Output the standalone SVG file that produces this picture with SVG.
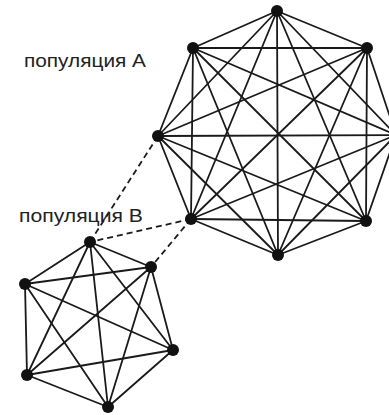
<svg xmlns="http://www.w3.org/2000/svg" width="389" height="415" viewBox="0 0 389 415">
<style>
.e{stroke:#1a1a1a;stroke-width:1.8;fill:none;stroke-linecap:round}
.d{stroke:#1a1a1a;stroke-width:1.8;fill:none;stroke-dasharray:6 4}
.n{fill:#111}
.t{font-family:"Liberation Sans",Arial,sans-serif;font-size:18.5px;fill:#222}
</style>
<rect width="389" height="415" fill="#fff"/>
<g id="connectors">
<g id="edges-A">
<line class="e" x1="277" y1="11" x2="367" y2="48"/>
<line class="e" x1="277" y1="11" x2="396" y2="135"/>
<line class="e" x1="277" y1="11" x2="366" y2="221"/>
<line class="e" x1="277" y1="11" x2="278" y2="255"/>
<line class="e" x1="277" y1="11" x2="191" y2="219"/>
<line class="e" x1="277" y1="11" x2="158" y2="136"/>
<line class="e" x1="277" y1="11" x2="193" y2="48"/>
<line class="e" x1="367" y1="48" x2="396" y2="135"/>
<line class="e" x1="367" y1="48" x2="366" y2="221"/>
<line class="e" x1="367" y1="48" x2="278" y2="255"/>
<line class="e" x1="367" y1="48" x2="191" y2="219"/>
<line class="e" x1="367" y1="48" x2="158" y2="136"/>
<line class="e" x1="367" y1="48" x2="193" y2="48"/>
<line class="e" x1="396" y1="135" x2="366" y2="221"/>
<line class="e" x1="396" y1="135" x2="278" y2="255"/>
<line class="e" x1="396" y1="135" x2="191" y2="219"/>
<line class="e" x1="396" y1="135" x2="158" y2="136"/>
<line class="e" x1="396" y1="135" x2="193" y2="48"/>
<line class="e" x1="366" y1="221" x2="278" y2="255"/>
<line class="e" x1="366" y1="221" x2="191" y2="219"/>
<line class="e" x1="366" y1="221" x2="158" y2="136"/>
<line class="e" x1="366" y1="221" x2="193" y2="48"/>
<line class="e" x1="278" y1="255" x2="191" y2="219"/>
<line class="e" x1="278" y1="255" x2="158" y2="136"/>
<line class="e" x1="278" y1="255" x2="193" y2="48"/>
<line class="e" x1="191" y1="219" x2="158" y2="136"/>
<line class="e" x1="191" y1="219" x2="193" y2="48"/>
<line class="e" x1="158" y1="136" x2="193" y2="48"/>
</g>
<g id="edges-B">
<line class="e" x1="90" y1="242" x2="151" y2="267"/>
<line class="e" x1="90" y1="242" x2="173" y2="350"/>
<line class="e" x1="90" y1="242" x2="108" y2="407"/>
<line class="e" x1="90" y1="242" x2="27" y2="375"/>
<line class="e" x1="90" y1="242" x2="25" y2="284"/>
<line class="e" x1="151" y1="267" x2="173" y2="350"/>
<line class="e" x1="151" y1="267" x2="108" y2="407"/>
<line class="e" x1="151" y1="267" x2="27" y2="375"/>
<line class="e" x1="151" y1="267" x2="25" y2="284"/>
<line class="e" x1="173" y1="350" x2="108" y2="407"/>
<line class="e" x1="173" y1="350" x2="27" y2="375"/>
<line class="e" x1="173" y1="350" x2="25" y2="284"/>
<line class="e" x1="108" y1="407" x2="27" y2="375"/>
<line class="e" x1="108" y1="407" x2="25" y2="284"/>
<line class="e" x1="27" y1="375" x2="25" y2="284"/>
</g>
<g id="edges-AB">
<line class="d" x1="158" y1="136" x2="90" y2="242"/>
<line class="d" x1="191" y1="219" x2="90" y2="242"/>
<line class="d" x1="191" y1="219" x2="151" y2="267"/>
</g>
</g>
<g id="a1"><circle class="n" cx="277" cy="11" r="6"/></g>
<g id="a2"><circle class="n" cx="367" cy="48" r="6"/></g>
<g id="a3"><circle class="n" cx="396" cy="135" r="6"/></g>
<g id="a4"><circle class="n" cx="366" cy="221" r="6"/></g>
<g id="a5"><circle class="n" cx="278" cy="255" r="6"/></g>
<g id="a6"><circle class="n" cx="191" cy="219" r="6"/></g>
<g id="a7"><circle class="n" cx="158" cy="136" r="6"/></g>
<g id="a8"><circle class="n" cx="193" cy="48" r="6"/></g>
<g id="b1"><circle class="n" cx="90" cy="242" r="6"/></g>
<g id="b2"><circle class="n" cx="151" cy="267" r="6"/></g>
<g id="b3"><circle class="n" cx="173" cy="350" r="6"/></g>
<g id="b4"><circle class="n" cx="108" cy="407" r="6"/></g>
<g id="b5"><circle class="n" cx="27" cy="375" r="6"/></g>
<g id="b6"><circle class="n" cx="25" cy="284" r="6"/></g>
<g id="label-A"><text class="t" x="24" y="67" textLength="122" lengthAdjust="spacingAndGlyphs">популяция A</text></g>
<g id="label-B"><text class="t" x="19" y="222" textLength="124" lengthAdjust="spacingAndGlyphs">популяция B</text></g>
</svg>
